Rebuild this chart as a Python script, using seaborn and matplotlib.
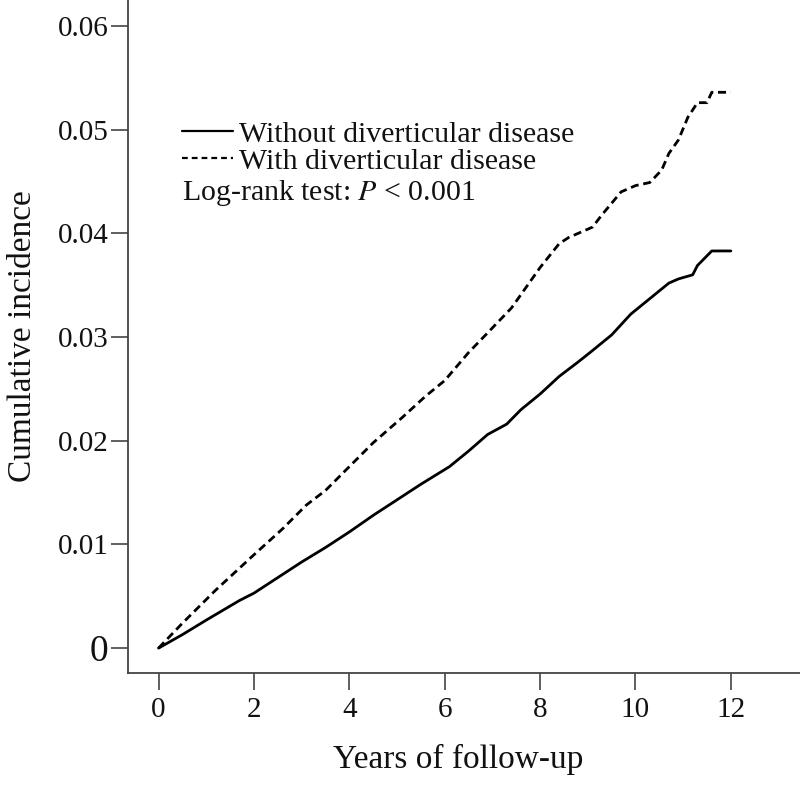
import numpy as np
import pandas as pd
import matplotlib
matplotlib.use('Agg')
import matplotlib.pyplot as plt
import seaborn as sns
from matplotlib.lines import Line2D

# ============================================================
# DATA
# ============================================================
years_without = [0, 0.5, 1.0, 1.7, 2.0, 2.5, 3.0, 3.5, 4.0, 4.5, 5.0, 5.5, 6.1, 6.5,
                 6.9, 7.3, 7.6, 8.0, 8.4, 8.8, 9.1, 9.5, 9.9, 10.3, 10.7, 10.9, 11.2,
                 11.3, 11.6, 12.0]
inc_without = [0, 0.0013, 0.0027, 0.0046, 0.0053, 0.0068, 0.0083, 0.0097, 0.0112,
               0.0128, 0.0143, 0.0158, 0.0175, 0.0190, 0.0206, 0.0216, 0.0230, 0.0245,
               0.0262, 0.0276, 0.0287, 0.0302, 0.0322, 0.0337, 0.0352, 0.0356, 0.0360,
               0.0369, 0.0383, 0.0383]

years_with = [0, 0.5, 1.2, 2.0, 2.6, 3.1, 3.5, 4.0, 4.5, 5.1, 5.6, 6.0, 6.5, 6.9, 7.4,
              8.0, 8.4, 8.6, 9.1, 9.3, 9.7, 10.0, 10.3, 10.55, 10.7, 10.9, 11.1, 11.3,
              11.5, 11.6, 12.0]
inc_with = [0, 0.0024, 0.0056, 0.0090, 0.0115, 0.0138, 0.0152, 0.0175, 0.0198, 0.0222,
            0.0243, 0.0258, 0.0285, 0.0304, 0.0328, 0.0367, 0.0390, 0.0396, 0.0406,
            0.0418, 0.0440, 0.0446, 0.0449, 0.0461, 0.0477, 0.0490, 0.0512, 0.0526,
            0.0526, 0.0536, 0.0536]

group_labels = ['Without diverticular disease', 'With diverticular disease']
x_ticks = [0, 2, 4, 6, 8, 10, 12]
y_ticks = [0, 0.01, 0.02, 0.03, 0.04, 0.05, 0.06]
y_ticklabels = ['0', '0.01', '0.02', '0.03', '0.04', '0.05', '0.06']

df = pd.concat([
    pd.DataFrame({'years': years_without, 'inc': inc_without, 'grup': group_labels[0]}),
    pd.DataFrame({'years': years_with, 'inc': inc_with, 'grup': group_labels[1]}),
], ignore_index=True)

# ============================================================
# PLOT
# ============================================================
sns.set_style('white')
plt.rcParams['font.family'] = ['Liberation Serif', 'DejaVu Serif']
plt.rcParams['mathtext.fontset'] = 'stix'

fig = plt.figure(figsize=(8, 7.89), dpi=100)
ax = fig.add_axes([0.16, 0.147, 0.84, 0.853])

sns.lineplot(data=df, x='years', y='inc', style='grup',
             dashes={group_labels[0]: '', group_labels[1]: (2.9, 1.7)},
             color='black', linewidth=2.0, ax=ax, legend=False)

ax.set_xlim(-0.64, 13.45)
ax.set_ylim(-0.0024, 0.0625)
ax.set_xticks(x_ticks)
ax.set_yticks(y_ticks)
ax.set_yticklabels(y_ticklabels)

ax.tick_params(axis='both', direction='out', length=12, width=1.2, color='#444444',
               labelsize=21, labelcolor='#111111', pad=2, left=True, bottom=True)
ax.tick_params(axis='x', pad=5)
ax.get_yticklabels()[0].set_fontsize(27)

for s in ['top', 'right']:
    ax.spines[s].set_visible(False)
for s in ['left', 'bottom']:
    ax.spines[s].set_color('#444444')
    ax.spines[s].set_linewidth(1.3)

ax.set_xlabel('Years of follow-up', fontsize=24, color='#111111')
ax.set_ylabel('Cumulative incidence', fontsize=24, color='#111111', labelpad=14)
ax.xaxis.set_label_coords(0.491, -0.106)

# legend manual (garis + teks)
handles = [Line2D([], [], color='black', lw=1.6),
           Line2D([], [], color='black', lw=1.6, dashes=(2.6, 1.8))]
ax.legend(handles, group_labels, loc='upper left', bbox_to_anchor=(0.063, 0.838),
          frameon=False, fontsize=21.5, handlelength=1.7, handletextpad=0.2,
          labelspacing=0.0, borderaxespad=0, labelcolor='#111111')
ax.text(0.080, 0.713, r'Log-rank test: $\it{P}$ < 0.001', transform=ax.transAxes,
        fontsize=21.5, color='#111111', va='center', ha='left')

plt.savefig('out.png', dpi=100)
plt.close()
